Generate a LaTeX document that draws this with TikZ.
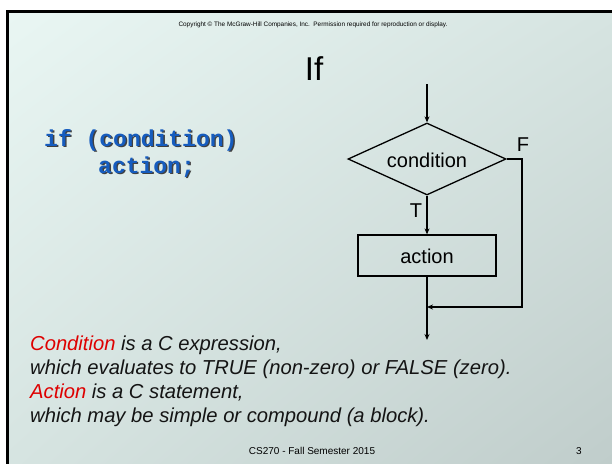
\documentclass[tikz,border=0pt]{standalone}
\usepackage{fontspec}
\setmainfont{Liberation Sans}
\newfontfamily\codefont{Liberation Mono}
\usetikzlibrary{shapes.geometric,arrows.meta,shadings}

\definecolor{bgTL}{RGB}{233,246,243}
\definecolor{bgTR}{RGB}{214,228,225}
\definecolor{bgBL}{RGB}{214,228,225}
\definecolor{bgBR}{RGB}{192,205,203}
\definecolor{codeblue}{RGB}{22,92,190}
\definecolor{keyred}{RGB}{222,0,0}

% code text with a dark drop shadow set behind it
\newcommand\codeshadow[1]{\rlap{\kern1.4pt\raisebox{-1.4pt}{\textcolor{black!75}{#1}}}#1}

\tikzset{
  flow/.style={line width=1.3pt, draw=black},
  arr/.style={flow, -{Stealth[length=6pt,width=5pt]}},
  flowtext/.style={font=\fontsize{20}{24}\selectfont, inner sep=0pt},
  body/.style={font=\fontsize{20.2}{24}\selectfont\itshape, inner sep=0pt, anchor=base west, text=black!92},
  code/.style={font=\fontsize{23}{27}\selectfont\codefont\bfseries, inner sep=0pt, anchor=base west, text=codeblue},
}

\begin{document}
\begin{tikzpicture}[x=1pt,y=-1pt]
  \useasboundingbox (0,0) rectangle (612,463);
  \fill[white] (0,0) rectangle (612,463);
  % slide background with soft diagonal gradient
  \shade[upper left=bgTL, upper right=bgTR, lower left=bgBL, lower right=bgBR]
    (8,12) rectangle (612,463);
  \draw[line width=2.6pt, line cap=rect] (7.5,463) -- (7.5,11.5) -- (612,11.5);

  % header and footer
  \node[inner sep=0pt, anchor=base, font=\fontsize{6.4}{8}\selectfont] (copy) at (313,26)
    {Copyright \textcopyright{} The McGraw-Hill Companies, Inc.\ \ Permission required for reproduction or display.};
  \node[inner sep=0pt, anchor=base, font=\fontsize{10}{12}\selectfont] (foot) at (312,454)
    {CS270 - Fall Semester 2015};
  \node[inner sep=0pt, anchor=base, font=\fontsize{10}{12}\selectfont] (pg) at (579,454) {3};

  % title
  \node[inner sep=0pt, anchor=base, font=\fontsize{33}{36}\selectfont] (title) at (314,80) {If};

  % code
  \node[code] (code1) at (44,146) {\codeshadow{if (condition)}};
  \node[code] (code2) at (98,173) {\codeshadow{action;}};

  % flowchart
  \coordinate (in) at (427,84);
  \node[diamond, flow, flowtext, minimum width=158pt, minimum height=72pt,
        shape aspect=2.2] (cond) at (427,159) {};
  \node[flowtext] (condtxt) at (427,160) {condition};
  \node[rectangle, flow, flowtext, minimum width=138pt, minimum height=41pt] (act) at (427,255.5) {};
  \node[flowtext] (acttxt) at (427,256) {action};
  \coordinate (fcorner) at (522,159);
  \coordinate (fdown) at (522,307);
  \coordinate (join) at (427,307);
  \coordinate (out) at (427,340);

  \draw[arr] (in) -- (cond.north);
  \draw[arr] (cond.south) -- (act.north);
  \draw[flow] (act.south) -- (join);
  \draw[arr] (join) -- (out);
  \draw[arr] (cond.east) -- (fcorner) -- (fdown) -- (join);

  \node[flowtext] (tlab) at (416,211) {T};
  \node[flowtext] (flab) at (523,145) {F};

  % explanation
  \node[body] (l1) at (30,350) {\textcolor{keyred}{Condition} is a C expression,};
  \node[body] (l2) at (30,374) {which evaluates to TRUE (non-zero) or FALSE (zero).};
  \node[body] (l3) at (30,398) {\textcolor{keyred}{Action} is a C statement,};
  \node[body] (l4) at (30,422) {which may be simple or compound (a block).};
\end{tikzpicture}
\end{document}
